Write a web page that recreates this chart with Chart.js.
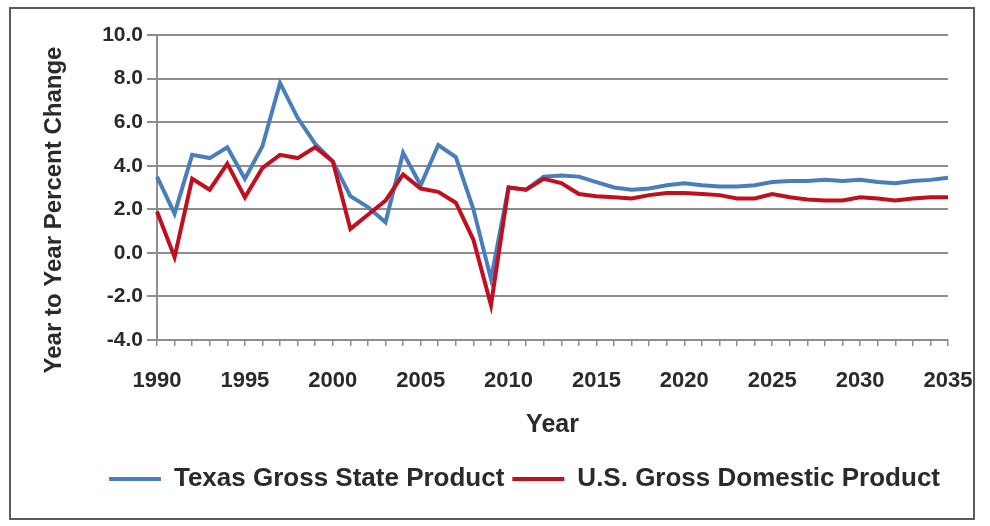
<!DOCTYPE html>
<html lang="en">
<head>
    <meta charset="UTF-8">
    <title>Texas vs U.S. Growth</title>
    <script src="https://cdn.jsdelivr.net/npm/chart.js"></script>
    <style>
        body { margin: 0; background: #fff; }
        #frame {
            position: absolute; left: 9px; top: 7px;
            width: 966px; height: 513px;
            box-sizing: border-box;
            border: 2px solid #5a5a5a;
        }
        #wrap { position: relative; width: 962px; height: 509px; }
    </style>
</head>
<body>
    <div id="frame">
        <div id="wrap"><canvas id="growthChart"></canvas></div>
    </div>

    <script>
        // Year-over-year percent change, history and forecast
        const years = [];
        for (let y = 1990; y <= 2035; y++) years.push(String(y));

        const texasGSP = [
            3.5, 1.8, 4.5, 4.35, 4.85, 3.4, 4.9, 7.8, 6.2, 5.0,
            4.2, 2.6, 2.1, 1.4, 4.6, 3.1, 4.95, 4.4, 2.0, -1.2,
            3.0, 2.9, 3.5, 3.55, 3.5, 3.25, 3.0, 2.9, 2.95, 3.1,
            3.2, 3.1, 3.05, 3.05, 3.1, 3.25, 3.3, 3.3, 3.35, 3.3,
            3.35, 3.25, 3.2, 3.3, 3.35, 3.45
        ];
        const usGDP = [
            1.9, -0.2, 3.4, 2.9, 4.1, 2.55, 3.9, 4.5, 4.35, 4.85,
            4.2, 1.1, 1.75, 2.4, 3.6, 2.95, 2.8, 2.3, 0.6, -2.4,
            3.0, 2.9, 3.4, 3.2, 2.7, 2.6, 2.55, 2.5, 2.65, 2.75,
            2.75, 2.7, 2.65, 2.5, 2.5, 2.7, 2.55, 2.45, 2.4, 2.4,
            2.55, 2.5, 2.4, 2.5, 2.55, 2.55
        ];

        const gridGray = '#8e8e8e';
        const textDark = '#2a2a2a';

        // vertical axis caption, sits a bit lower than the plot's middle
        const yCaption = {
            id: 'yCaption',
            afterDraw(chart) {
                const c = chart.ctx;
                const area = chart.chartArea;
                c.save();
                c.translate(area.left - 103, area.top + 175);
                c.rotate(-Math.PI / 2);
                c.fillStyle = textDark;
                c.font = 'bold 24px "Liberation Sans"';
                c.textAlign = 'center';
                c.textBaseline = 'middle';
                c.fillText('Year to Year Percent Change', 0, 0);
                c.restore();
            }
        };

        const ctx = document.getElementById('growthChart').getContext('2d');
        new Chart(ctx, {
            type: 'line',
            data: {
                labels: years,
                datasets: [{
                    label: 'Texas Gross State Product',
                    data: texasGSP,
                    borderColor: '#4a7ebb',
                    backgroundColor: '#4a7ebb',
                    borderWidth: 4,
                    pointRadius: 0,
                    order: 1
                }, {
                    label: 'U.S. Gross Domestic Product',
                    data: usGDP,
                    borderColor: '#c0101f',
                    backgroundColor: '#c0101f',
                    borderWidth: 4,
                    pointRadius: 0,
                    order: 0
                }]
            },
            plugins: [yCaption],
            options: {
                responsive: true,
                maintainAspectRatio: false,
                animation: false,
                layout: { padding: { top: 26, right: 25, bottom: 16, left: 0 } },
                plugins: {
                    tooltip: { enabled: false },
                    legend: {
                        position: 'bottom',
                        align: 'end',
                        labels: {
                            color: textDark,
                            font: { family: 'Liberation Sans', size: 26, weight: 'bold' },
                            boxWidth: 52,
                            boxHeight: 4,
                            padding: 8,
                            sort: (a, b) => a.datasetIndex - b.datasetIndex,
                            generateLabels: (chart) => {
                                const items = Chart.defaults.plugins.legend.labels.generateLabels(chart);
                                items.forEach(it => { it.lineWidth = 0; });
                                return items;
                            }
                        }
                    }
                },
                scales: {
                    x: {
                        afterFit: (scale) => {
                            scale.height = 118;
                            // keep the 2035 label from pushing the plot inward
                            scale.paddingRight = 0;
                        },
                        grid: {
                            drawOnChartArea: false,
                            color: gridGray,
                            tickLength: 6,
                            lineWidth: 1.5
                        },
                        border: { color: gridGray, width: 2 },
                        ticks: {
                            autoSkip: false,
                            maxRotation: 0,
                            padding: 22,
                            color: textDark,
                            font: { family: 'Liberation Sans', size: 22, weight: 'bold' },
                            callback: function (val) {
                                const y = Number(this.getLabelForValue(val));
                                return y % 5 === 0 ? String(y) : '';
                            }
                        },
                        title: {
                            display: true,
                            text: 'Year',
                            color: textDark,
                            font: { family: 'Liberation Sans', size: 25, weight: 'bold' },
                            padding: { top: 0, bottom: 18 }
                        }
                    },
                    y: {
                        min: -4,
                        max: 10,
                        afterFit: (scale) => { scale.width = 146; },
                        grid: {
                            color: gridGray,
                            lineWidth: 2,
                            tickLength: 10
                        },
                        border: { color: gridGray, width: 2 },
                        ticks: {
                            stepSize: 2,
                            padding: 4,
                            color: textDark,
                            font: { family: 'Liberation Sans', size: 21, weight: 'bold' },
                            callback: (v) => v.toFixed(1)
                        }
                    }
                }
            }
        });
    </script>
</body>
</html>
